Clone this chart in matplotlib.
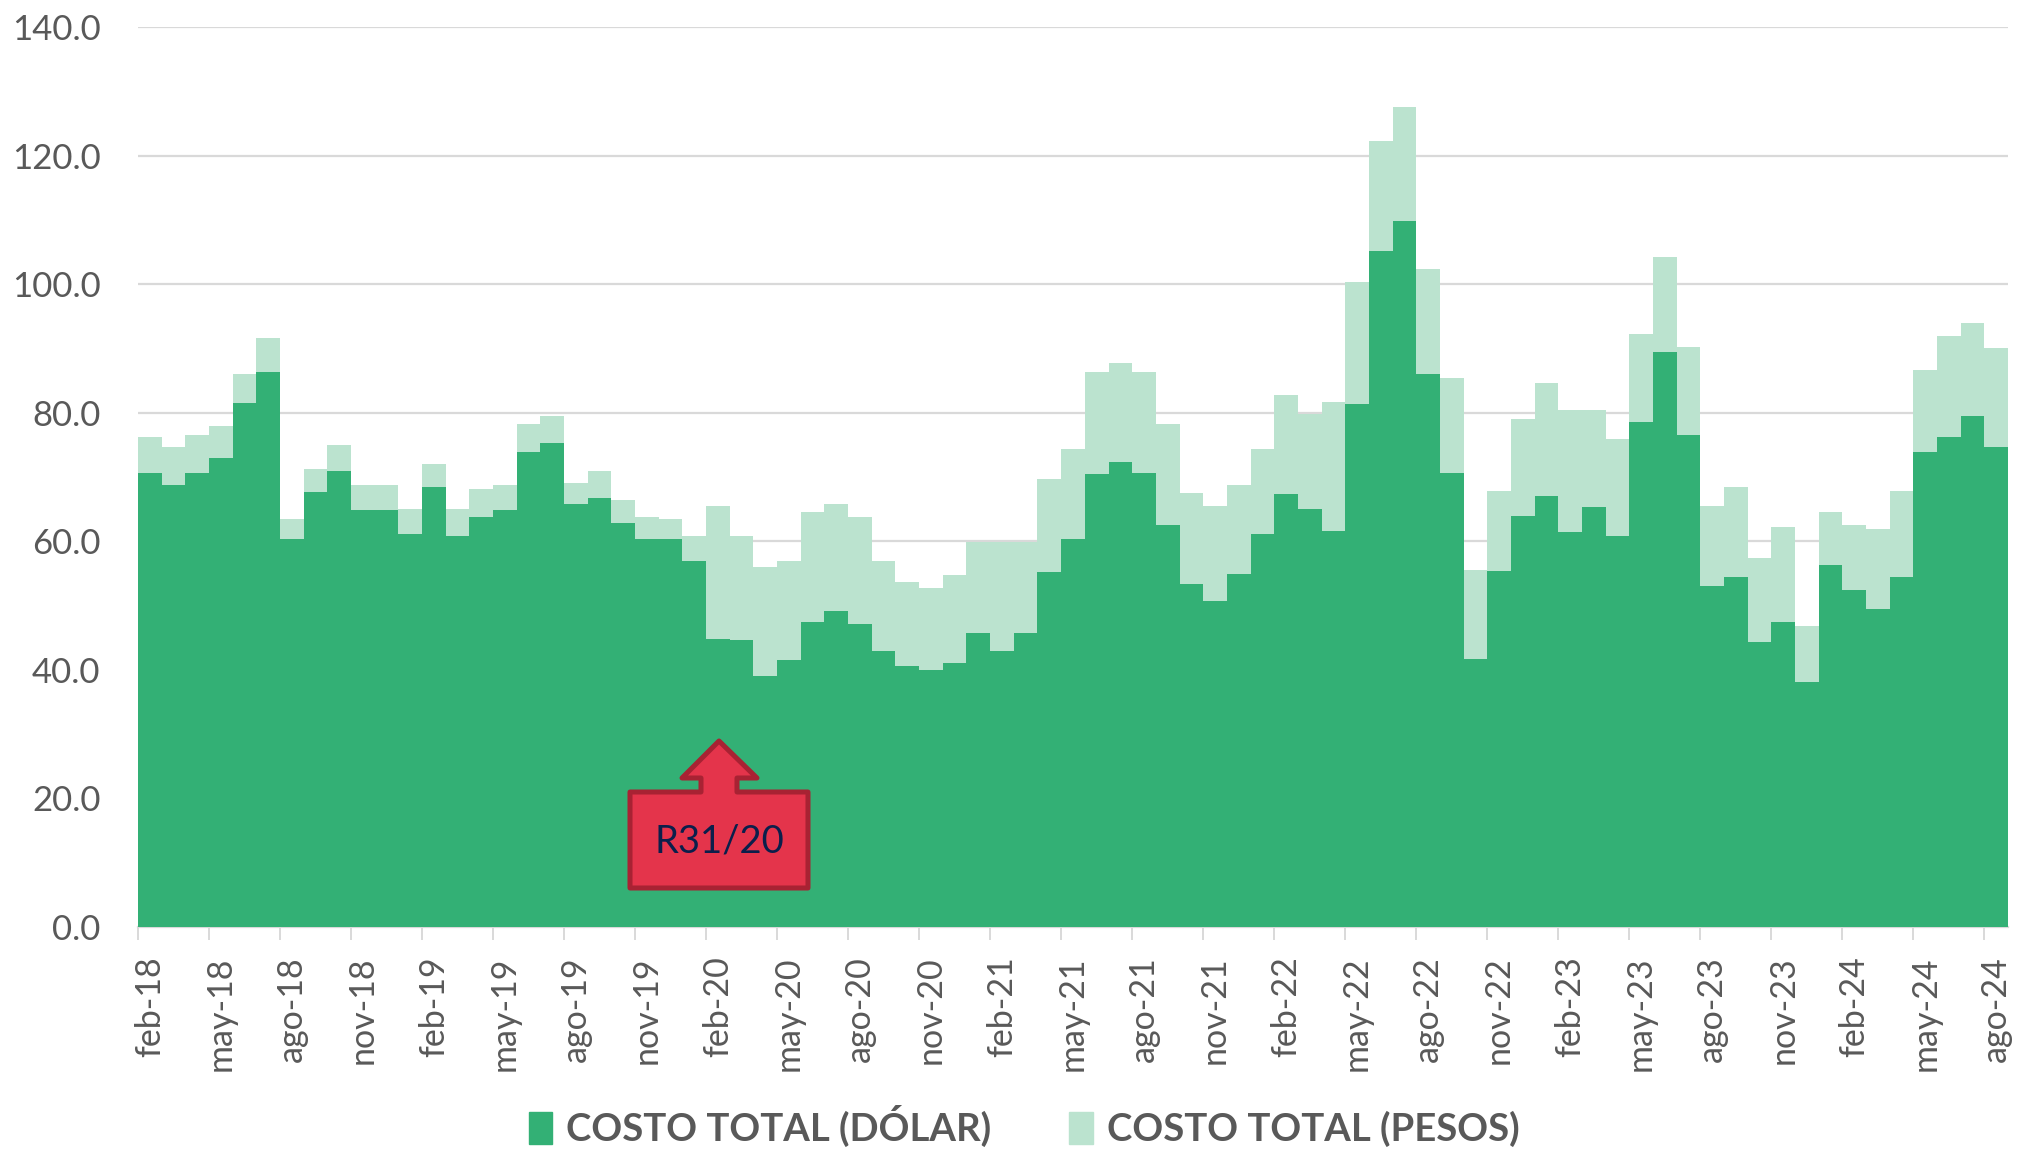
import numpy as np
import matplotlib
matplotlib.use("Agg")
import matplotlib.pyplot as plt
from matplotlib.patches import Polygon, Patch

# monthly values, feb-18 to ago-24
dolar = [70.7, 68.8, 70.7, 73.0, 81.5, 86.3, 60.3, 67.7, 71.0, 64.8, 64.8, 61.2, 68.4, 60.9, 63.8, 64.8,
         73.9, 75.3, 65.8, 66.7, 62.8, 60.3, 60.3, 57.0, 44.8, 44.6, 39.0, 41.6, 47.5, 49.1, 47.2, 42.9,
         40.6, 40.0, 41.0, 45.8, 42.9, 45.8, 55.3, 60.3, 70.4, 72.3, 70.7, 62.5, 53.4, 50.7, 54.9, 61.2,
         67.4, 65.1, 61.6, 81.4, 105.2, 109.8, 86.0, 70.7, 41.7, 55.4, 64.0, 67.0, 61.5, 65.4, 60.9, 78.5,
         89.5, 76.5, 53.1, 54.4, 44.3, 47.5, 38.1, 56.3, 52.4, 49.5, 54.4, 73.9, 76.2, 79.5, 74.6]
pesos = [5.5, 5.9, 5.9, 4.9, 4.6, 5.3, 3.2, 3.6, 4.0, 4.0, 4.0, 3.9, 3.6, 4.2, 4.3, 4.0,
         4.3, 4.2, 3.3, 4.3, 3.6, 3.5, 3.2, 3.9, 20.7, 16.3, 17.0, 15.3, 17.0, 16.7, 16.6, 14.0,
         13.1, 12.7, 13.7, 14.1, 17.0, 14.1, 14.4, 14.0, 16.0, 15.4, 15.7, 15.7, 14.1, 14.8, 13.9, 13.1,
         15.4, 14.7, 20.1, 19.0, 17.0, 17.7, 16.4, 14.7, 13.8, 12.4, 15.1, 17.7, 19.0, 15.1, 15.0, 13.7,
         14.8, 13.7, 12.4, 14.1, 13.1, 14.8, 8.8, 8.2, 10.2, 12.4, 13.4, 12.8, 15.8, 14.4, 15.4]
meses = ["feb", "may", "ago", "nov"]
anios = ["18", "19", "20", "21", "22", "23", "24"]
etiquetas = [f"{m}-{a}" for a in anios for m in meses][:27]
nombres = ["COSTO TOTAL (DÓLAR)", "COSTO TOTAL (PESOS)"]

W, H = 2023, 1152
VERDE = "#33B075"
VERDE_CLARO = "#BBE3CF"
GRIS = "#595959"
LINEA = "#D9D9D9"

plt.rcParams["font.family"] = ["Lato", "DejaVu Sans"]

fig = plt.figure(figsize=(W / 100, H / 100), dpi=100)
ax = fig.add_axes([138 / W, 1 - 927 / H, (2008 - 138) / W, 900 / H])

x = np.arange(len(dolar))
ax.bar(x, dolar, width=1, color=VERDE, linewidth=0, antialiased=False, zorder=3)
ax.bar(x, pesos, width=1, bottom=dolar, color=VERDE_CLARO, linewidth=0, antialiased=False, zorder=3)

ax.set_xlim(-0.5, len(dolar) - 0.5)
ax.set_ylim(0, 140)
ax.set_yticks(np.arange(0, 141, 20))
ax.set_yticklabels([f"{v:.1f}" for v in np.arange(0, 141, 20)])
ax.grid(axis="y", color=LINEA, linewidth=1.6, zorder=0)
ax.set_axisbelow(True)

# ticks sit on the month edge, labels on the month centre
ax.set_xticks(x[::3] - 0.5)
ax.set_xticklabels([])
ax.set_xticks(x[::3], etiquetas, minor=True, rotation=90)
ax.tick_params(axis="x", which="major", length=9, width=1.4, color=LINEA)
ax.tick_params(axis="x", which="minor", length=0, pad=21, labelsize=24.5, labelcolor=GRIS)
ax.tick_params(axis="y", length=0, pad=27, labelsize=25, labelcolor=GRIS)
for s in ["top", "right", "left"]:
    ax.spines[s].set_visible(False)
ax.spines["bottom"].set_color(LINEA)
ax.spines["bottom"].set_linewidth(1.6)
for lab in ax.get_yticklabels():
    lab.set_horizontalalignment("right")

# red callout, placed in pixels
flecha = [(630, 792), (701, 792), (701, 778), (682, 778), (719, 741), (757, 778), (737, 778), (737, 792),
          (808, 792), (808, 888), (630, 888)]
fig.add_artist(Polygon([(px / W, 1 - py / H) for px, py in flecha], closed=True, transform=fig.transFigure,
                       facecolor="#E4344B", edgecolor="#A82233", linewidth=3.6, joinstyle="round", zorder=5))
fig.text(719 / W, 1 - 842 / H, "R31/20", color="#0B1F4B", fontsize=27.5, ha="center", va="center", zorder=6)

handles = [Patch(color=VERDE), Patch(color=VERDE_CLARO)]
fig.legend(handles, nombres, loc="center", bbox_to_anchor=(1024 / W, 1 - 1126 / H), ncol=2, frameon=False,
           prop={"size": 27.5, "weight": "bold"}, labelcolor=GRIS, handlelength=0.62, handleheight=0.9,
           handletextpad=0.36, columnspacing=2.05)

fig.savefig("out.png", dpi=100, facecolor="white")
